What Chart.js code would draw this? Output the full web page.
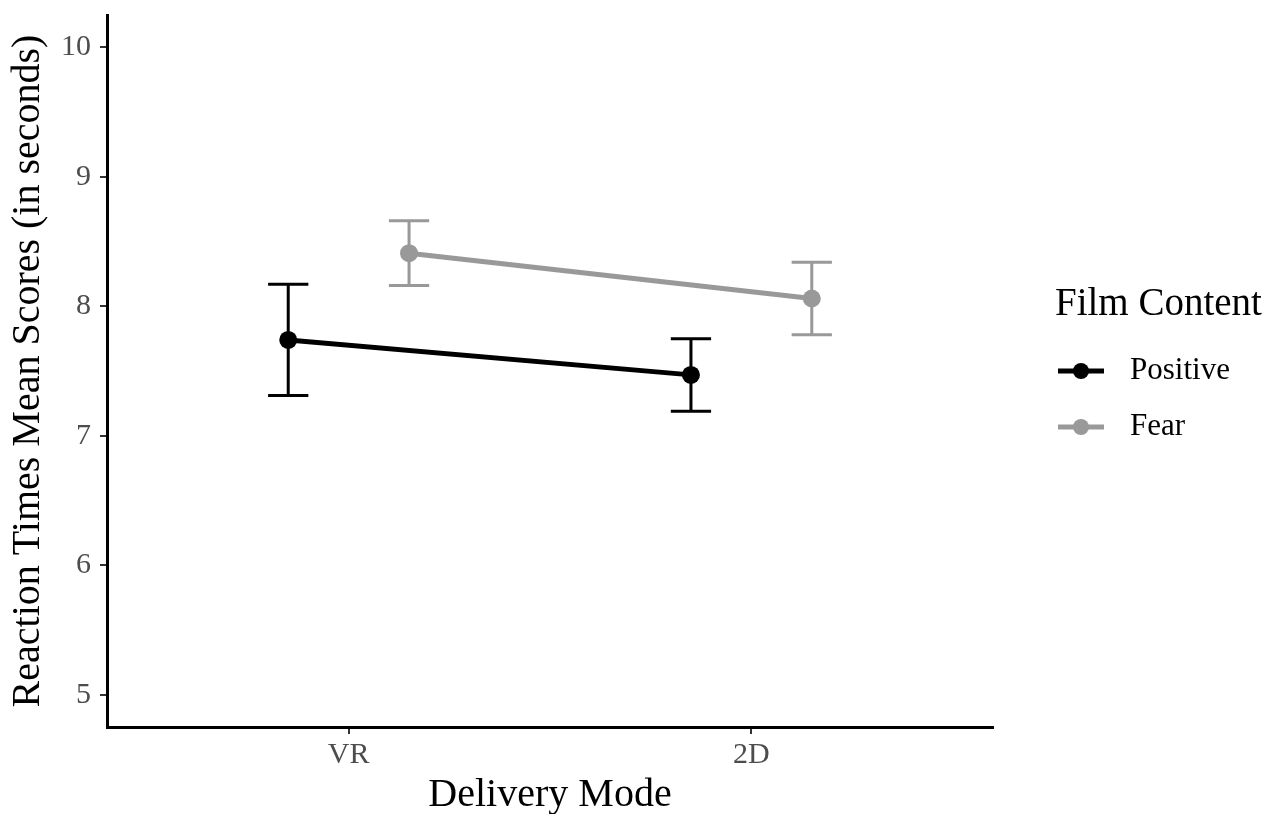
<!DOCTYPE html>
<html>
<head>
<meta charset="utf-8">
<script src="https://cdn.jsdelivr.net/npm/chart.js@4/dist/chart.umd.min.js"></script>
<style>
  html, body { margin: 0; padding: 0; background: #fff; }
  #wrap { width: 1267px; height: 814px; }
</style>
</head>
<body>
<div id="wrap"><canvas id="chart"></canvas></div>
<script>
// data
const categories = ['VR', '2D'];
const groups = ['Positive', 'Fear'];
const positiveMeans = [7.74, 7.47];
const positiveLower = [7.31, 7.19];
const positiveUpper = [8.17, 7.75];
const fearMeans = [8.41, 8.06];
const fearLower = [8.16, 7.78];
const fearUpper = [8.66, 8.34];
const yTicks = [5, 6, 7, 8, 9, 10];

const colors = ['#000000', '#999999'];
const dodge = 0.15;      // ggplot position_dodge
const capHalf = 0.05;    // half width of error bar caps
const serif = '"Liberation Serif", "Times New Roman", serif';

function pts(means, offset) {
    return means.map((m, i) => ({ x: i + 1 + offset, y: m }));
}

// error bars, drawn with the chart's own scales
const errorBars = {
    id: 'errorBars',
    beforeDatasetsDraw(chart) {
        const c = chart.ctx, xs = chart.scales.x, ys = chart.scales.y;
        chart.data.datasets.forEach((ds) => {
            c.save();
            c.strokeStyle = ds.borderColor;
            c.lineWidth = 3;
            c.lineCap = 'butt';
            ds.data.forEach((p, i) => {
                const x = xs.getPixelForValue(p.x);
                const x0 = xs.getPixelForValue(p.x - capHalf);
                const x1 = xs.getPixelForValue(p.x + capHalf);
                const lo = ys.getPixelForValue(ds.lower[i]);
                const hi = ys.getPixelForValue(ds.upper[i]);
                c.beginPath();
                c.moveTo(x, lo); c.lineTo(x, hi);
                c.moveTo(x0, lo); c.lineTo(x1, lo);
                c.moveTo(x0, hi); c.lineTo(x1, hi);
                c.stroke();
            });
            c.restore();
        });
    }
};

// ggplot-like legend on the right
const sideLegend = {
    id: 'sideLegend',
    afterDraw(chart) {
        const c = chart.ctx;
        const left = chart.chartArea.right + 62;
        c.save();
        c.fillStyle = '#000';
        c.textBaseline = 'middle';
        c.font = '39px ' + serif;
        c.fillText('Film Content', left, 305);
        chart.data.datasets.forEach((ds, i) => {
            const y = 371 + i * 56;
            c.strokeStyle = ds.borderColor;
            c.lineWidth = 5;
            c.beginPath();
            c.moveTo(left + 3, y); c.lineTo(left + 49, y);
            c.stroke();
            c.fillStyle = ds.borderColor;
            c.beginPath();
            c.arc(left + 26, y, 8, 0, Math.PI * 2);
            c.fill();
            c.fillStyle = '#000';
            c.font = '31px ' + serif;
            c.fillText(ds.label, left + 75, y);
        });
        c.restore();
    }
};

const ctx = document.getElementById('chart').getContext('2d');
new Chart(ctx, {
    type: 'line',
    data: {
        datasets: [
            {
                label: groups[0],
                data: pts(positiveMeans, -dodge),
                lower: positiveLower,
                upper: positiveUpper,
                borderColor: colors[0],
                backgroundColor: colors[0],
                borderWidth: 5,
                pointRadius: 9,
                pointBorderWidth: 0
            },
            {
                label: groups[1],
                data: pts(fearMeans, dodge),
                lower: fearLower,
                upper: fearUpper,
                borderColor: colors[1],
                backgroundColor: colors[1],
                borderWidth: 5,
                pointRadius: 9,
                pointBorderWidth: 0
            }
        ]
    },
    options: {
        responsive: true,
        maintainAspectRatio: false,
        animation: false,
        layout: { padding: { top: 15, right: 274, left: 0, bottom: 0 } },
        plugins: {
            legend: { display: false },
            tooltip: { enabled: false }
        },
        scales: {
            x: {
                type: 'linear',
                min: 0.4,
                max: 2.6,
                afterBuildTicks: (s) => { s.ticks = categories.map((_, i) => ({ value: i + 1 })); },
                afterFit: (s) => { s.height = 87; s.paddingLeft = 0; s.paddingRight = 0; },
                ticks: {
                    callback: (v) => categories[v - 1],
                    color: '#4d4d4d',
                    font: { family: serif, size: 30 },
                    padding: 3
                },
                grid: { drawOnChartArea: false, drawTicks: true, tickLength: 7, color: '#333', lineWidth: 2 },
                border: { display: true, color: '#000', width: 3 },
                title: {
                    display: true,
                    text: 'Delivery Mode',
                    color: '#000',
                    font: { family: serif, size: 40 },
                    padding: { top: -5, bottom: -5 }
                }
            },
            y: {
                min: 4.75,
                max: 10.25,
                afterBuildTicks: (s) => { s.ticks = yTicks.map((v) => ({ value: v })); },
                afterFit: (s) => { s.width = 107; s.paddingTop = 0; s.paddingBottom = 0; },
                ticks: {
                    color: '#4d4d4d',
                    font: { family: serif, size: 30 },
                    padding: 9
                },
                grid: { drawOnChartArea: false, drawTicks: true, tickLength: 7, color: '#333', lineWidth: 2 },
                border: { display: true, color: '#000', width: 3 },
                title: {
                    display: true,
                    text: 'Reaction Times Mean Scores (in seconds)',
                    color: '#000',
                    font: { family: serif, size: 40 },
                    padding: { top: 4, bottom: 0 }
                }
            }
        }
    },
    plugins: [errorBars, sideLegend]
});
</script>
</body>
</html>
